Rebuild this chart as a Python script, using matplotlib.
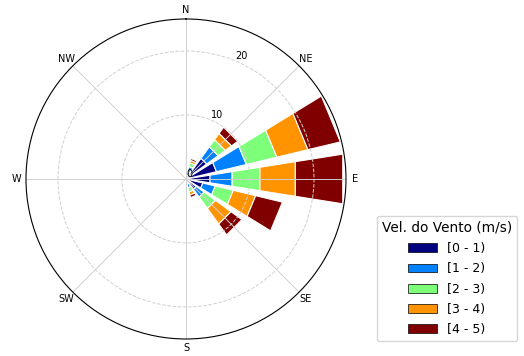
import numpy as np
import matplotlib.pyplot as plt
from matplotlib.patches import Rectangle, Patch

# 16 sectores de direção, a partir do Norte no sentido horário
direcoes = ['N', 'NNE', 'NE', 'ENE', 'E', 'ESE', 'SE', 'SSE',
            'S', 'SSW', 'SW', 'WSW', 'W', 'WNW', 'NW', 'NNW']
classes = ['[0 - 1)', '[1 - 2)', '[2 - 3)', '[3 - 4)', '[4 - 5)']

# frequência (%) de cada classe de velocidade por direção
freq_0_1 = [0.4, 1.2, 4.0, 4.9, 3.8, 2.7, 2.0, 0.8, 0.4, 0.2, 0.1, 0.1, 0.1, 0.1, 0.1, 0.2]
freq_1_2 = [0.3, 0.8, 2.2, 4.8, 3.5, 2.0, 1.5, 0.6, 0.3, 0.1, 0.0, 0.0, 0.0, 0.0, 0.0, 0.1]
freq_2_3 = [0.2, 0.6, 1.4, 4.9, 4.4, 2.9, 2.2, 0.7, 0.2, 0.1, 0.0, 0.0, 0.0, 0.0, 0.0, 0.0]
freq_3_4 = [0.1, 0.4, 1.2, 5.0, 5.6, 3.6, 3.0, 0.5, 0.1, 0.0, 0.0, 0.0, 0.0, 0.0, 0.0, 0.0]
freq_4_5 = [0.1, 0.3, 1.2, 5.2, 7.5, 4.3, 2.1, 0.4, 0.1, 0.0, 0.0, 0.0, 0.0, 0.0, 0.0, 0.0]

tabela = np.array([freq_0_1, freq_1_2, freq_2_3, freq_3_4, freq_4_5])
cores = plt.cm.jet(np.linspace(0, 1, len(classes)))

fig = plt.figure(figsize=(5.24, 3.56), dpi=100)
ax = fig.add_axes([0.0496, 0.0478, 0.6107, 0.8989], projection='polar')
ax.set_theta_zero_location('N')
ax.set_theta_direction(-1)

passo = 2 * np.pi / len(direcoes)
abertura = 0.8 * passo
angulos = np.arange(len(direcoes)) * passo

# barras empilhadas com lados retos (retângulos no sistema polar)
for j, ang in enumerate(angulos):
    base = 0.0
    for i in range(len(classes)):
        val = tabela[i, j]
        if val <= 0:
            continue
        ret = Rectangle((ang - abertura / 2, base), abertura, val,
                        facecolor=cores[i], edgecolor='white', linewidth=0.8)
        ax.add_patch(ret)
        base += val

ax.set_rlim(0, 25)
ax.set_rticks([0, 10, 20])
ax.set_rlabel_position(22.5)
ax.set_thetagrids(np.arange(0, 360, 45), ['N', 'NE', 'E', 'SE', 'S', 'SW', 'W', 'NW'])
ax.tick_params(labelsize=7)
ax.tick_params(axis='x', pad=-4)
ax.xaxis.grid(True, color='#d0d0d0', linewidth=0.7, linestyle='-')
ax.yaxis.grid(True, color='#d0d0d0', linewidth=0.7, linestyle='--')
ax.spines['polar'].set_color('black')
ax.spines['polar'].set_linewidth(0.8)

handles = [Patch(facecolor=cores[i], edgecolor='black', linewidth=0.5, label=classes[i])
           for i in range(len(classes))]
leg = fig.legend(handles=handles, title='Vel. do Vento (m/s)', loc='lower left',
                 bbox_to_anchor=(0.719, 0.042), borderaxespad=0, fontsize=9,
                 title_fontsize=9.8, labelspacing=0.58, handlelength=2.3)

fig.savefig('out.png', dpi=100)
